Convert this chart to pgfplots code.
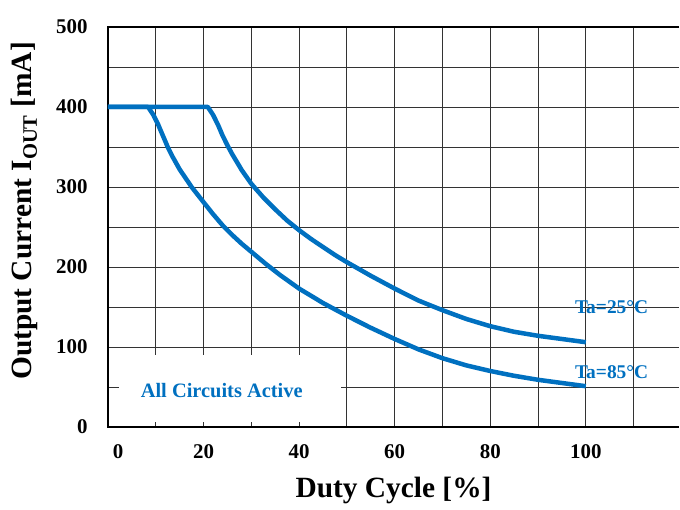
\documentclass[border=0pt]{standalone}
\usepackage{fontspec}
\setmainfont{Liberation Serif}
\usepackage{pgfplots}
\pgfplotsset{compat=1.18}
\definecolor{cblue}{RGB}{0,112,192}

\begin{document}
\begin{tikzpicture}
\useasboundingbox (-108bp,-83bp) rectangle (572bp,427bp);
\begin{axis}[
  at={(0,0)}, anchor=south west,
  scale only axis, width=571bp, height=400bp,
  xmin=0, xmax=119.5, ymin=0, ymax=500,
  xtick={0,20,...,100}, xticklabels={\hspace{20bp}0,20,40,60,80,100},
  minor xtick={10,30,...,110},
  ytick={0,100,...,500},
  minor ytick={50,150,...,450},
  grid=both,
  major grid style={line width=0.9bp, black!80},
  minor grid style={line width=0.9bp, black!80},
  major tick length=0pt, minor tick length=0pt,
  axis line style={draw=none},
  clip=false,
  /pgf/number format/assume math mode=true,
  tick label style={font=\fontsize{21}{23}\selectfont\bfseries},
  xticklabel style={yshift=-14bp},
  yticklabel style={xshift=-17bp},
  xlabel={Duty Cycle [\%]},
  ylabel={Output Current I\textsubscript{OUT} [mA]},
  label style={font=\fontsize{29.5}{32}\selectfont\bfseries},
  xlabel style={at={(axis description cs:0.5,0)}, anchor=center, yshift=-63bp},
  ylabel style={at={(axis description cs:-0.146,0.54)}, anchor=center},
]
\fill[white] (axis cs:2.3,6) rectangle (axis cs:48.7,90);
\draw[line width=2.5bp, black] (rel axis cs:1,1) -- (rel axis cs:0,1) -- (rel axis cs:0,0) -- (rel axis cs:1,0);
\addplot[cblue, line width=4.5bp, line join=round] coordinates {
(0,400) (20.9,400) (22,390) (23,378) (24,364) (25,352) (26,341) (27,331) (28,321) (30,304) (32.5,287) (35,272) (37.5,258) (40,246) (42.5,235) (45,225) (47.5,215) (50,206) (55,189) (60,173) (65,158) (70,146) (75,135) (80,126) (85,119) (90,114) (95,110) (100,106)};
\addplot[cblue, line width=4.5bp, line join=round] coordinates {
(0,400) (8.4,400) (9.5,390) (10.5,378) (11.5,364) (12.5,350) (13.5,338) (15,322) (17.5,300) (20,281) (22,266) (24,252) (26,240) (28,229) (30,219) (33,204) (36,190) (40,173) (45,155) (50,139) (55,124) (60,110) (65,97) (70,86) (75,77) (80,70) (85,64) (90,59) (95,55) (100,51)};
\node[font=\fontsize{19.5}{21}\selectfont\bfseries, text=cblue] at (axis cs:105.4,150) {Ta=25°C};
\node[font=\fontsize{19.5}{21}\selectfont\bfseries, text=cblue] at (axis cs:105.4,69) {Ta=85°C};
\node[font=\fontsize{20.5}{22}\selectfont\bfseries, text=cblue] at (axis cs:23.8,46) {All Circuits Active};
\end{axis}
\end{tikzpicture}
\end{document}
